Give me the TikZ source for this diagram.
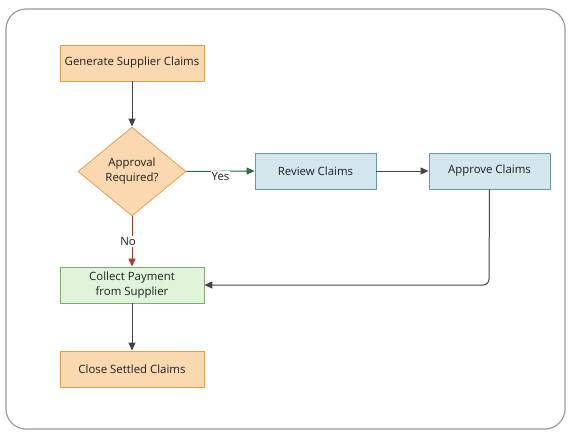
\documentclass[tikz,border=0pt]{standalone}
\usepackage{fontspec}
\setmainfont{Open Sans}
\usetikzlibrary{shapes.geometric,arrows.meta}
\definecolor{orfill}{HTML}{FAD8B0}
\definecolor{ordraw}{HTML}{E0A050}
\definecolor{blfill}{HTML}{D3E6EE}
\definecolor{bldraw}{HTML}{6E98A4}
\definecolor{grfill}{HTML}{E0F4DC}
\definecolor{grdraw}{HTML}{7AAE6E}
\definecolor{arr}{HTML}{444444}
\definecolor{yesc}{HTML}{2E6B46}
\definecolor{noc}{HTML}{A93A2C}
\definecolor{frame}{HTML}{9A9A9A}
\begin{document}
\begin{tikzpicture}[x=1pt,y=-1pt,
  font=\fontsize{11.4}{15}\selectfont,
  box/.style={draw, line width=0.8pt, minimum width=144pt, minimum height=36pt, inner sep=0pt, align=center, text=black!88},
  orbox/.style={box, fill=orfill, draw=ordraw},
  blbox/.style={box, fill=blfill, draw=bldraw, minimum width=121pt},
  grbox/.style={box, fill=grfill, draw=grdraw},
  dec/.style={diamond, draw=ordraw, fill=orfill, line width=0.8pt, minimum width=108pt, minimum height=89pt, aspect=1.2, inner sep=0pt, align=center, text=black!88},
  conn/.style={draw=arr, line width=1pt, -{Triangle[length=8pt,width=7pt]}},
  lbl/.style={fill=white, inner sep=1pt, text=black!88}]
\useasboundingbox (0,0) rectangle (576,442);
\draw[frame, line width=1.2pt, rounded corners=20pt] (6,9) rectangle (565,429);
\node[orbox] (gen) at (132,63) {Generate Supplier Claims};
\node[dec] (dec) at (132,171.5) {};
\node[text=black!88, align=center] (dect) at (132,171.5) {Approval\\Required?};
\node[blbox] (rev) at (315.5,171) {Review Claims};
\node[blbox] (app) at (489.5,171) {Approve Claims};
\node[grbox] (col) at (132,285) {Collect Payment\\from Supplier};
\node[orbox] (clo) at (132,369) {Close Settled Claims};
\coordinate (corner) at (489,285);
\draw[conn] (gen) -- (dec.north);
\draw[conn, draw=yesc, fill=yesc] (dec.east) -- node[lbl, pos=0.5, yshift=-5pt] (yes) {Yes} (rev.west);
\draw[conn, draw=noc, fill=noc] (dec.south) -- node[lbl, pos=0.5, xshift=-4pt] (no) {No} (col.north);
\draw[conn] (rev) -- (app);
\draw[conn, rounded corners=6pt] (app.south) -- (corner) -- (col.east);
\draw[conn] (col) -- (clo);
\end{tikzpicture}
\end{document}
